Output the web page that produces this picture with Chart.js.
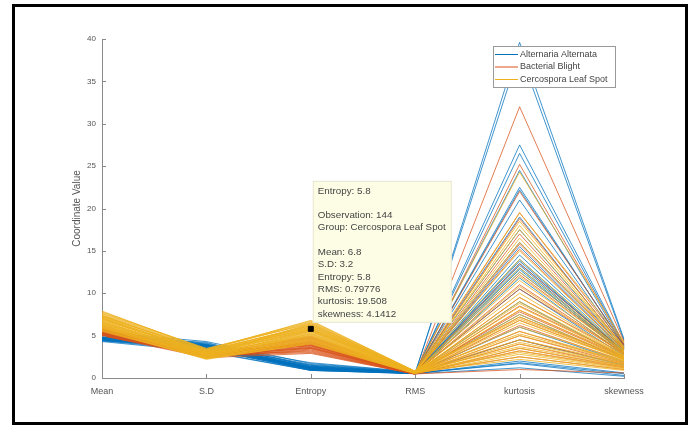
<!DOCTYPE html>
<html>
<head>
<meta charset="utf-8">
<script src="https://cdn.jsdelivr.net/npm/chart.js@4.4.1/dist/chart.umd.min.js"></script>
<style>
  html, body { margin: 0; padding: 0; background: #fff; }
  #wrap { position: relative; width: 693px; height: 426px; }
</style>
</head>
<body>
<div id="wrap"><canvas id="c" width="693" height="426"></canvas></div>
<script>
// ---- data ----
const categories = ['Mean', 'S.D', 'Entropy', 'RMS', 'kurtosis', 'skewness'];
const groupNames = ['Alternaria Alternata', 'Bacterial Blight', 'Cercospora Leaf Spot'];
const yTicks = [0, 5, 10, 15, 20, 25, 30, 35, 40];

// each row: [Mean, S.D, Entropy, RMS, kurtosis, skewness]
const alternaria = [
  [4.4, 3.9, 1.1, 0.55, 39.6, 4.6],
  [4.6, 3.8, 1.2, 0.60, 38.5, 4.4],
  [4.5, 3.7, 1.0, 0.55, 27.5, 4.0],
  [4.7, 3.6, 1.3, 0.60, 26.5, 3.9],
  [4.8, 3.9, 1.1, 0.58, 22.5, 3.7],
  [4.9, 3.8, 1.2, 0.62, 22.2, 3.8],
  [4.5, 3.5, 1.4, 0.60, 21.0, 3.6],
  [5.0, 3.7, 1.5, 0.65, 17.5, 3.4],
  [4.6, 3.4, 1.0, 0.55, 15.5, 3.3],
  [4.7, 3.6, 1.2, 0.60, 14.5, 3.2],
  [4.8, 3.8, 1.1, 0.58, 14.0, 3.1],
  [4.9, 3.9, 1.3, 0.60, 13.8, 3.0],
  [5.1, 4.0, 1.2, 0.62, 13.5, 3.2],
  [4.6, 3.7, 1.0, 0.56, 13.3, 2.9],
  [4.4, 3.5, 0.9, 0.55, 13.0, 3.0],
  [5.2, 4.1, 1.4, 0.64, 12.8, 2.8],
  [4.8, 3.6, 1.1, 0.60, 12.5, 3.1],
  [4.5, 3.3, 1.3, 0.58, 11.8, 2.7],
  [5.0, 3.9, 1.6, 0.66, 10.5, 2.6],
  [4.7, 3.8, 1.2, 0.60, 9.0, 2.4],
  [4.9, 4.2, 1.0, 0.57, 7.5, 2.2],
  [5.3, 4.0, 1.5, 0.63, 6.0, 1.9],
  [4.6, 3.5, 1.1, 0.55, 4.5, 1.5],
  [4.4, 3.2, 0.9, 0.52, 2.0, 0.6],
  [4.5, 3.4, 1.0, 0.54, 1.8, 0.5],
  [4.7, 3.6, 1.2, 0.56, 1.7, 0.3],
  [4.3, 3.1, 0.9, 0.50, 1.2, 0.2],
  [5.4, 4.3, 1.7, 0.70, 16.0, 3.5],
  [5.5, 3.9, 1.8, 0.72, 24.5, 3.8],
  [4.8, 3.7, 1.3, 0.60, 19.0, 3.5]
];
const bacterial = [
  [5.2, 2.6, 3.2, 0.45, 32.0, 4.3],
  [5.4, 2.8, 3.8, 0.50, 25.2, 4.0],
  [5.6, 2.5, 4.2, 0.55, 19.5, 3.8],
  [5.0, 2.7, 3.5, 0.48, 18.8, 3.6],
  [5.3, 2.9, 4.0, 0.52, 15.8, 3.5],
  [5.8, 2.4, 4.5, 0.58, 15.2, 3.3],
  [5.1, 2.6, 3.0, 0.46, 12.2, 3.0],
  [5.5, 2.8, 3.6, 0.50, 9.5, 2.8],
  [5.7, 2.7, 4.4, 0.56, 8.5, 2.6],
  [5.2, 2.5, 3.3, 0.47, 8.0, 2.5],
  [5.4, 3.0, 3.9, 0.53, 7.8, 2.4],
  [5.9, 2.6, 4.6, 0.60, 7.2, 2.3],
  [5.0, 2.4, 2.9, 0.45, 6.8, 2.2],
  [5.3, 2.7, 3.7, 0.50, 6.2, 2.0],
  [5.6, 2.9, 4.1, 0.55, 5.5, 1.8],
  [5.1, 2.5, 3.4, 0.48, 5.0, 1.7],
  [5.5, 2.6, 4.3, 0.54, 4.5, 1.6],
  [5.8, 2.8, 4.8, 0.60, 4.0, 1.4],
  [5.2, 2.7, 3.1, 0.46, 3.5, 1.3],
  [5.4, 2.5, 3.6, 0.50, 3.2, 1.2],
  [5.7, 2.9, 4.0, 0.55, 2.5, 1.0],
  [5.0, 2.6, 3.5, 0.48, 1.0, 0.6],
  [6.0, 2.8, 4.7, 0.60, 10.5, 2.9],
  [5.3, 3.1, 3.8, 0.52, 13.5, 3.1],
  [6.2, 2.7, 4.9, 0.62, 22.0, 3.9],
  [5.6, 2.6, 3.9, 0.53, 17.0, 3.4],
  [5.9, 2.9, 4.2, 0.57, 11.0, 2.9]
];
const cercospora = [
  [6.8, 3.2, 5.8, 0.79776, 19.508, 4.1412],
  [7.2, 2.8, 6.2, 0.70, 24.3, 4.2],
  [6.5, 2.6, 5.5, 0.65, 18.5, 3.7],
  [7.0, 3.0, 6.0, 0.72, 17.5, 3.6],
  [6.2, 2.5, 5.2, 0.60, 16.5, 3.4],
  [7.5, 3.3, 6.5, 0.75, 15.0, 3.3],
  [6.0, 2.4, 4.8, 0.58, 12.0, 3.0],
  [6.6, 2.7, 5.4, 0.66, 11.5, 2.9],
  [7.3, 3.1, 6.3, 0.73, 10.0, 2.7],
  [5.8, 2.3, 4.5, 0.55, 9.5, 2.6],
  [6.9, 2.9, 5.7, 0.68, 8.8, 2.5],
  [6.3, 2.6, 5.0, 0.62, 8.0, 2.4],
  [7.6, 3.4, 6.6, 0.78, 7.0, 2.3],
  [6.1, 2.5, 4.6, 0.59, 6.5, 2.2],
  [7.1, 3.0, 5.9, 0.70, 6.0, 2.1],
  [6.4, 2.7, 5.3, 0.64, 5.5, 2.0],
  [5.6, 2.3, 4.2, 0.54, 5.0, 1.9],
  [7.4, 3.2, 6.1, 0.74, 4.5, 1.8],
  [6.7, 2.8, 5.6, 0.67, 4.2, 1.7],
  [5.9, 2.4, 4.4, 0.57, 4.0, 1.6],
  [7.7, 3.5, 6.4, 0.77, 3.7, 1.5],
  [6.0, 2.6, 4.9, 0.60, 3.5, 1.4],
  [6.6, 2.9, 5.5, 0.65, 3.2, 1.3],
  [7.0, 3.1, 5.8, 0.69, 3.0, 1.2],
  [5.7, 2.2, 4.1, 0.53, 2.8, 1.1],
  [6.3, 2.5, 5.1, 0.61, 2.5, 1.0],
  [7.2, 3.3, 6.0, 0.71, 2.2, 0.9],
  [6.5, 2.8, 4.7, 0.63, 13.0, 3.1],
  [7.8, 3.4, 6.7, 0.79, 14.0, 3.2],
  [5.5, 2.3, 4.0, 0.52, 7.5, 2.3],
  [6.9, 3.0, 5.6, 0.68, 6.8, 2.2],
  [7.3, 3.2, 6.2, 0.74, 5.2, 2.0],
  [6.1, 2.6, 4.5, 0.58, 18.0, 3.6],
  [6.7, 2.9, 5.0, 0.63, 16.0, 3.5],
  [7.4, 3.0, 5.7, 0.70, 12.5, 3.1],
  [5.9, 2.4, 4.3, 0.56, 10.8, 2.8],
  [7.1, 2.7, 6.4, 0.72, 9.0, 2.6],
  [6.4, 2.8, 5.2, 0.62, 8.4, 2.5],
  [7.9, 3.3, 6.8, 0.80, 7.2, 2.4]
];

// data tip (selected observation)
const tipObservation = 144;
const tipGroup = 'Cercospora Leaf Spot';
const tipAxis = 'Entropy';
const tipValues = ['6.8', '3.2', '5.8', '0.79776', '19.508', '4.1412'];

// ---- styles ----
const groupColors = ['#0072BD', '#D95319', '#EDB120'];
const groupLineColors = ['rgba(0,114,189,0.75)', 'rgba(217,83,25,0.75)', 'rgba(237,177,32,0.8)'];
const groupOrder = [3, 2, 1]; // higher order drawn underneath
const FONT = '"Liberation Sans", Arial, sans-serif';
const TEXT = '#555555';
const AXIS = '#8a8a8a';

const datasets = [];
[alternaria, bacterial, cercospora].forEach((rows, g) => {
  rows.forEach(r => datasets.push({
    data: r,
    borderColor: groupLineColors[g],
    borderWidth: 1,
    pointRadius: 0,
    tension: 0,
    order: groupOrder[g]
  }));
});
const tipIndex = categories.indexOf(tipAxis);
datasets.push({
  data: categories.map((c, i) => i === tipIndex ? Number(tipValues[i]) : null),
  showLine: false,
  pointStyle: 'rect',
  pointRadius: 3.5,
  backgroundColor: '#000',
  borderColor: '#000',
  order: 0
});

const decor = {
  id: 'decor',
  afterDatasetsDraw(chart) {
    const ctx = chart.ctx, xs = chart.scales.x, ys = chart.scales.y, ca = chart.chartArea;
    ctx.save();
    // inward tick marks
    ctx.strokeStyle = AXIS; ctx.lineWidth = 1;
    yTicks.forEach(v => {
      const y = Math.round(ys.getPixelForValue(v)) + 0.5;
      ctx.beginPath(); ctx.moveTo(ca.left, y); ctx.lineTo(ca.left + 4, y); ctx.stroke();
    });
    categories.forEach((c, i) => {
      const x = Math.round(xs.getPixelForValue(i)) + 0.5;
      ctx.beginPath(); ctx.moveTo(x, ca.bottom); ctx.lineTo(x, ca.bottom - 4); ctx.stroke();
    });

    // data tip box
    const px = xs.getPixelForValue(tipIndex), py = ys.getPixelForValue(Number(tipValues[tipIndex]));
    const lines = [
      tipAxis + ': ' + tipValues[tipIndex], '',
      'Observation: ' + tipObservation,
      'Group: ' + tipGroup, ''
    ].concat(categories.map((c, i) => c + ': ' + tipValues[i]));
    const bw = 139, lh = 12.3, bh = 142;
    const bx = px + 2, by = py - 6 - bh;
    ctx.fillStyle = '#fdfde6';
    ctx.fillRect(bx, by, bw, bh);
    ctx.strokeStyle = '#e6e6d2';
    ctx.strokeRect(bx + 0.5, by + 0.5, bw - 1, bh - 1);
    ctx.fillStyle = '#444';
    ctx.font = '9.8px ' + FONT;
    ctx.textBaseline = 'middle';
    ctx.textAlign = 'left';
    lines.forEach((t, k) => { if (t) ctx.fillText(t, bx + 5, by + 10 + k * lh); });

    // legend
    const lw = 122, lhh = 41;
    const lx = ca.right - 9 - lw, ly = ca.top + 7;
    ctx.fillStyle = '#fff';
    ctx.fillRect(lx, ly, lw, lhh);
    ctx.strokeStyle = '#9a9a9a';
    ctx.strokeRect(Math.round(lx) + 0.5, Math.round(ly) + 0.5, lw, lhh);
    ctx.font = '9px ' + FONT;
    groupNames.forEach((n, k) => {
      const yy = ly + 8.5 + k * 12.5;
      ctx.strokeStyle = groupColors[k]; ctx.lineWidth = 1;
      ctx.beginPath(); ctx.moveTo(lx + 2, yy); ctx.lineTo(lx + 25, yy); ctx.stroke();
      ctx.fillStyle = '#444';
      ctx.fillText(n, lx + 27, yy);
    });
    ctx.restore();
  },
  afterDraw(chart) {
    const ctx = chart.ctx;
    ctx.save();
    ctx.strokeStyle = '#000'; ctx.lineWidth = 3;
    ctx.strokeRect(13.5, 5.5, 673, 418);
    ctx.restore();
  }
};

new Chart(document.getElementById('c'), {
  type: 'line',
  data: { labels: categories, datasets },
  plugins: [decor],
  options: {
    responsive: false,
    animation: false,
    events: [],
    layout: { padding: { left: 67, right: 69, top: 39, bottom: 0 } },
    plugins: { legend: { display: false }, tooltip: { enabled: false } },
    scales: {
      x: {
        offset: false,
        grid: { display: false, drawTicks: false },
        border: { display: true, color: AXIS },
        ticks: { color: TEXT, font: { size: 9, family: FONT }, padding: 8, maxRotation: 0, autoSkip: false },
        afterFit(s) { s.height = 48; }
      },
      y: {
        min: 0, max: 40,
        grid: { display: false, drawTicks: false },
        border: { display: true, color: AXIS },
        ticks: { stepSize: 5, color: TEXT, font: { size: 8, family: FONT }, padding: 6 },
        title: { display: true, text: 'Coordinate Value', color: TEXT, font: { size: 10, family: FONT } },
        afterFit(s) { s.width = 35; }
      }
    }
  }
});
</script>
</body>
</html>
